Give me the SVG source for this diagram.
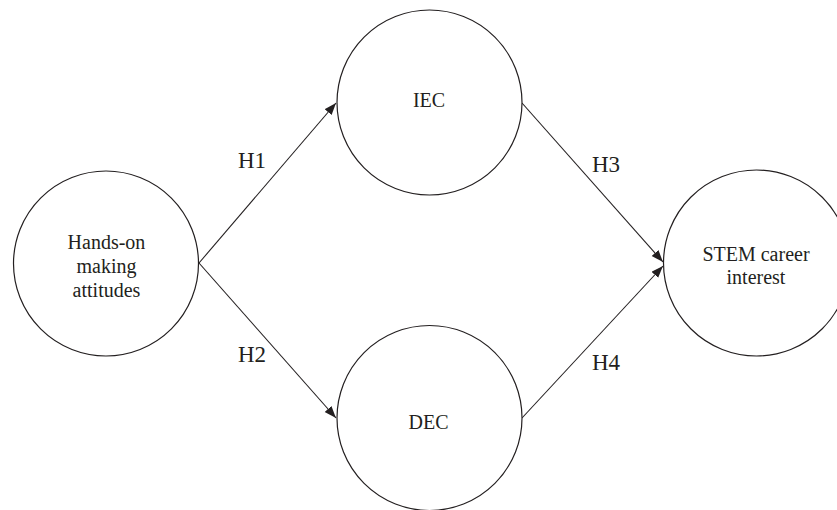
<svg xmlns="http://www.w3.org/2000/svg" width="837" height="510" viewBox="0 0 837 510">
<style>
.node circle{fill:#fff;stroke:#231f20;stroke-width:1.2}
.nt{font-family:"Liberation Serif","Times New Roman",serif;font-size:20px;fill:#231f20;text-anchor:middle}
.lbl{font-family:"Liberation Serif","Times New Roman",serif;font-size:23px;fill:#231f20}
.edge{stroke:#231f20;stroke-width:1.1;fill:none;marker-end:url(#ah)}
</style>
<defs>
<marker id="ah" markerUnits="userSpaceOnUse" markerWidth="13" markerHeight="10" refX="12" refY="4.5" orient="auto">
<path d="M0,0 L12,4.5 L0,9 z" fill="#231f20"/>
</marker>
</defs>
<rect width="837" height="510" fill="#fff"/>
<g id="connectors">
<line class="edge" x1="199" y1="263" x2="336" y2="103"/>
<line class="edge" x1="199" y1="263" x2="336" y2="418"/>
<line class="edge" x1="522" y1="103" x2="663" y2="262"/>
<line class="edge" x1="522" y1="418" x2="663" y2="266"/>
</g>
<g id="labels">
<text class="lbl" x="238" y="168">H1</text>
<text class="lbl" x="238" y="362">H2</text>
<text class="lbl" x="592" y="172">H3</text>
<text class="lbl" x="592" y="370">H4</text>
</g>
<g id="node-hands" class="node">
<circle cx="106" cy="263.5" r="92.5"/>
<text class="nt" x="106.5" y="249">Hands-on</text>
<text class="nt" x="106.5" y="273">making</text>
<text class="nt" x="106.5" y="297">attitudes</text>
</g>
<g id="node-iec" class="node">
<circle cx="429.5" cy="102.5" r="92.5"/>
<text class="nt" x="429" y="107">IEC</text>
</g>
<g id="node-dec" class="node">
<circle cx="429.5" cy="418" r="92.5"/>
<text class="nt" x="428.5" y="429">DEC</text>
</g>
<g id="node-stem" class="node">
<circle cx="756.5" cy="263" r="93"/>
<text class="nt" x="756" y="261">STEM career</text>
<text class="nt" x="756" y="284">interest</text>
</g>
</svg>
